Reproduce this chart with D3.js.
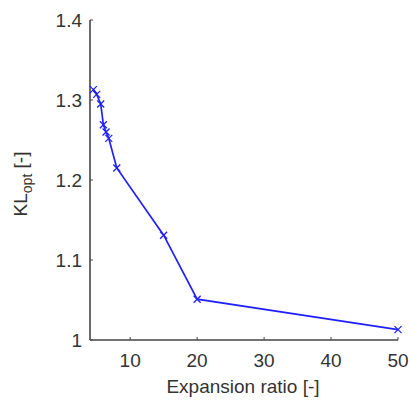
<!DOCTYPE html>
<html><head><meta charset="utf-8">
<script src="https://cdn.jsdelivr.net/npm/d3@7"></script>
<style>body{margin:0;background:#fff}</style>
</head><body>
<svg id="c" width="410" height="401"></svg>
<script>
const expansionRatio = [4.5, 5, 5.6, 6, 6.4, 6.8, 8, 15, 20, 50];
const klOpt = [1.313, 1.307, 1.295, 1.269, 1.26, 1.252, 1.215, 1.131, 1.051, 1.013];
const xTicks = [10, 20, 30, 40, 50];
const yTicks = [1, 1.1, 1.2, 1.3, 1.4];

const svg = d3.select("#c");
const m = {l: 90, r: 398, t: 20, b: 340};
const x = d3.scaleLinear().domain([4, 50]).range([m.l, m.r]);
const y = d3.scaleLinear().domain([1, 1.4]).range([m.b, m.t]);
const font = "Arial, 'Liberation Sans', sans-serif";
const txt = "#333";
const fs = 19;

// axis lines
svg.append("line").attr("x1", m.l).attr("x2", m.l).attr("y1", m.t).attr("y2", m.b)
  .attr("stroke", "#444").attr("stroke-width", 1.6);
svg.append("line").attr("x1", m.l).attr("x2", m.r).attr("y1", m.b).attr("y2", m.b)
  .attr("stroke", "#444").attr("stroke-width", 1.6);

const xa = svg.append("g");
xTicks.forEach(t => {
  xa.append("line").attr("x1", x(t)).attr("x2", x(t)).attr("y1", m.b).attr("y2", m.b - 3)
    .attr("stroke", "#444").attr("stroke-width", 1);
  xa.append("text").attr("x", x(t)).attr("y", m.b + 27).attr("text-anchor", "middle")
    .attr("font-family", font).attr("font-size", fs).attr("fill", txt).text(d3.format("d")(t));
});
yTicks.forEach(t => {
  xa.append("line").attr("x1", m.l).attr("x2", m.l + 3).attr("y1", y(t)).attr("y2", y(t))
    .attr("stroke", "#444").attr("stroke-width", 1);
  xa.append("text").attr("x", m.l - 8).attr("y", y(t) + 7).attr("text-anchor", "end")
    .attr("font-family", font).attr("font-size", fs).attr("fill", txt)
    .text(t === 1 ? "1" : d3.format(".1f")(t));
});

svg.append("text").attr("x", 243).attr("y", 393).attr("text-anchor", "middle")
  .attr("font-family", font).attr("font-size", fs).attr("fill", txt).text("Expansion ratio [-]");
const yl = svg.append("text").attr("transform", "translate(27,184) rotate(-90)")
  .attr("text-anchor", "middle").attr("font-family", font).attr("font-size", fs).attr("fill", txt);
yl.append("tspan").text("KL");
yl.append("tspan").attr("dy", 5).attr("font-size", 14).text("opt");
yl.append("tspan").attr("dy", -5).text(" [-]");

const pts = expansionRatio.map((v, i) => [v, klOpt[i]]);
svg.append("path").datum(pts)
  .attr("d", d3.line().x(d => x(d[0])).y(d => y(d[1])))
  .attr("fill", "none").attr("stroke", "#2020ff").attr("stroke-width", 1.7);
const s = 3.5;
svg.append("g").selectAll("path.m").data(pts).join("path")
  .attr("d", d => { const px = x(d[0]), py = y(d[1]);
    return `M${px-s},${py-s}L${px+s},${py+s}M${px-s},${py+s}L${px+s},${py-s}`; })
  .attr("stroke", "#2020ff").attr("stroke-width", 1.3).attr("fill", "none");
</script>
</body></html>
